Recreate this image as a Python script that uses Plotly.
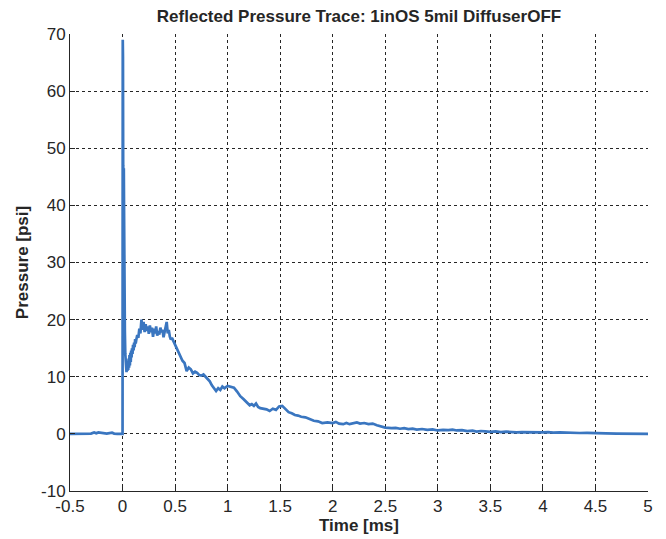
import plotly.graph_objects as go

# Time [ms] and reflected pressure [psi]
time_ms = [
    -0.5, -0.4, -0.3, -0.27, -0.25, -0.23, -0.15, -0.1, -0.08, -0.05, -0.002,
    0.0, 0.002, 0.004, 0.006, 0.009, 0.012, 0.014, 0.016, 0.018, 0.022,
    0.026, 0.03, 0.034, 0.038, 0.042, 0.046, 0.05, 0.054, 0.058, 0.062,
    0.066, 0.07, 0.074, 0.078, 0.082, 0.086, 0.09, 0.095, 0.1, 0.105,
    0.11, 0.115, 0.12, 0.125, 0.13, 0.14, 0.15, 0.16, 0.17, 0.18,
    0.19, 0.2, 0.21, 0.22, 0.23, 0.24, 0.25, 0.26, 0.27, 0.28, 0.29,
    0.3, 0.31, 0.32, 0.33, 0.34, 0.35, 0.36, 0.37, 0.38, 0.39, 0.4,
    0.41, 0.42, 0.43, 0.44, 0.45, 0.46, 0.47, 0.49, 0.51, 0.53, 0.55,
    0.57, 0.59, 0.61, 0.63, 0.65, 0.67, 0.69, 0.71, 0.73, 0.75, 0.77,
    0.79, 0.81, 0.83, 0.85, 0.87, 0.89, 0.91, 0.93, 0.95, 0.97, 1.0,
    1.03, 1.06, 1.09, 1.12, 1.15, 1.18, 1.21, 1.23, 1.25, 1.27, 1.29,
    1.31, 1.34, 1.37, 1.4, 1.43, 1.46, 1.49, 1.52, 1.55, 1.58, 1.61,
    1.64, 1.67, 1.7, 1.74, 1.78, 1.82, 1.86, 1.9, 1.95, 2.0, 2.03,
    2.06, 2.1, 2.13, 2.16, 2.2, 2.23, 2.26, 2.3, 2.34, 2.38, 2.42,
    2.46, 2.5, 2.56, 2.6, 2.64, 2.68, 2.72, 2.76, 2.8, 2.85, 2.9,
    2.95, 3.0, 3.05, 3.1, 3.14, 3.18, 3.23, 3.28, 3.33, 3.37, 3.41,
    3.45, 3.5, 3.55, 3.6, 3.65, 3.7, 3.75, 3.8, 3.85, 3.92, 4.0,
    4.05, 4.1, 4.16, 4.22, 4.3, 4.35, 4.42, 4.5, 4.6, 4.7,
    4.85, 5.0,
]
pressure_psi = [
    0.0, 0.0, 0.05, 0.25, 0.1, 0.25, 0.05, 0.2, 0.05, 0.0, 0.0,
    0.0, 69.0, 66.0, 47.0, 45.5, 46.5, 40.0, 20.0, 18.5, 18.0,
    14.0, 12.0, 13.0, 10.8, 12.4, 11.0, 12.8, 11.2, 13.2, 11.6,
    13.8, 12.0, 14.2, 12.6, 14.6, 13.4, 15.0, 14.0, 15.6, 14.6,
    16.0, 15.2, 16.6, 15.8, 16.4, 17.3, 16.8, 18.4, 17.6, 20.0,
    18.2, 19.6, 17.8, 19.2, 18.0, 18.8, 17.5, 19.0, 17.8, 18.6, 17.0,
    18.4, 17.6, 18.8, 17.2, 18.0, 17.4, 18.6, 17.8, 18.2, 16.9, 17.8,
    18.4, 19.6, 17.6, 18.2, 17.0, 16.5, 16.8, 16.0, 15.0, 14.3, 13.3,
    12.8, 12.4, 11.0, 11.6, 11.3, 10.6, 10.9, 10.7, 10.3, 10.2, 10.4,
    10.0, 9.6, 9.2, 8.5, 7.9, 7.5, 8.0, 7.7, 8.3, 8.0, 8.4,
    8.2, 8.1, 7.4, 6.6, 6.1, 5.5, 5.0, 5.2, 4.9, 5.3, 4.7,
    4.5, 4.4, 4.3, 4.0, 4.4, 4.2, 4.8, 4.9, 4.3, 3.8, 3.6,
    3.3, 3.2, 3.0, 2.9, 2.6, 2.3, 2.2, 1.9, 2.0, 1.9, 2.1,
    1.8, 1.7, 1.9, 1.7, 1.8, 2.0, 1.8, 1.9, 1.7, 1.8, 1.5,
    1.3, 1.1, 1.0, 1.05, 0.9, 1.0, 0.85, 0.9, 0.75, 0.85, 0.7,
    0.8, 0.6, 0.7, 0.65, 0.75, 0.6, 0.65, 0.5, 0.55, 0.4, 0.5,
    0.45, 0.35, 0.42, 0.3, 0.38, 0.3, 0.25, 0.32, 0.28, 0.22, 0.25,
    0.3, 0.22, 0.26, 0.2, 0.24, 0.15, 0.18, 0.1, 0.1, 0.05,
    0.05, 0.0,
]

x_ticks = [-0.5, 0, 0.5, 1, 1.5, 2, 2.5, 3, 3.5, 4, 4.5, 5]
x_tick_labels = ["-0.5", "0", "0.5", "1", "1.5", "2", "2.5", "3", "3.5", "4", "4.5", "5"]
y_ticks = [-10, 0, 10, 20, 30, 40, 50, 60, 70]
y_tick_labels = ["-10", "0", "10", "20", "30", "40", "50", "60", "70"]

line_color = "#3A76C0"
text_color = "#262626"
font_family = "Liberation Sans, Arial, sans-serif"

# the page has an 8px body margin, so the figure is sized to fit the window
W, H = 658, 531
L, R, T, B = 62, 18, 26, 48

fig = go.Figure()
fig.add_trace(go.Scatter(
    x=time_ms, y=pressure_psi, mode="lines",
    line=dict(color=line_color, width=2.7),
    showlegend=False,
))

axis_common = dict(
    showgrid=True, gridcolor=text_color, griddash="dot", gridwidth=1,
    showline=True, linecolor=text_color, linewidth=1,
    ticks="inside", ticklen=5, tickcolor=text_color,
    zeroline=False, mirror=False, automargin=False,
    tickfont=dict(family=font_family, size=17, color=text_color),
)

fig.update_layout(
    width=W, height=H,
    paper_bgcolor="white", plot_bgcolor="white",
    margin=dict(l=L, r=R, t=T, b=B),
    title=dict(
        text="<b>Reflected Pressure Trace: 1inOS 5mil DiffuserOFF</b>",
        x=(L + (W - R)) / 2 / W, xanchor="center",
        y=1 - 8 / H, yanchor="middle",
        font=dict(family=font_family, size=17, color=text_color),
    ),
    xaxis=dict(
        range=[-0.5, 5], tickvals=x_ticks, ticktext=x_tick_labels,
        title=dict(text="<b>Time [ms]</b>", standoff=2,
                   font=dict(family=font_family, size=17, color=text_color)),
        **axis_common,
    ),
    yaxis=dict(
        range=[-10, 70], tickvals=y_ticks, ticktext=y_tick_labels,
        title=dict(text="<b>Pressure [psi]</b>", standoff=8,
                   font=dict(family=font_family, size=17, color=text_color)),
        **axis_common,
    ),
)

fig.write_html("out.html")
